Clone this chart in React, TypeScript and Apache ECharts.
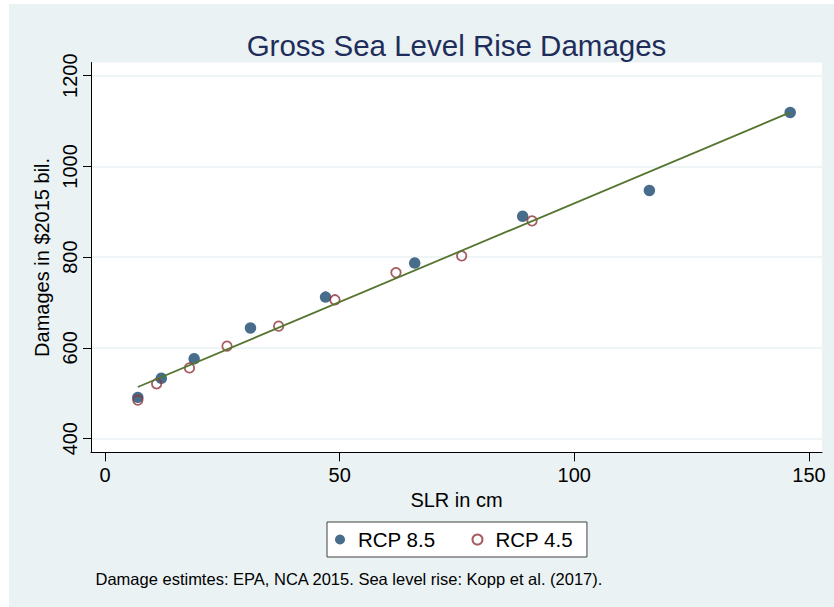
import React, { useEffect, useRef } from 'react';
import * as echarts from 'echarts';

// Data
const slrRcp85 = [7, 12, 19, 31, 47, 66, 89, 116, 146];
const dmgRcp85 = [491, 533, 576, 644, 712, 787, 890, 947, 1119];
const slrRcp45 = [7, 11, 18, 26, 37, 49, 62, 76, 91];
const dmgRcp45 = [485, 521, 556, 604, 648, 706, 766, 803, 880];
const fitSlr = [7, 146];
const fitDmg = [514, 1119];
const xTicks = [0, 50, 100, 150];
const yTicks = [400, 600, 800, 1000, 1200];
const seriesNames = ['RCP 8.5', 'RCP 4.5'];
const titleText = 'Gross Sea Level Rise Damages';
const xName = 'SLR in cm';
const yName = 'Damages in $2015 bil.';
const noteText = 'Damage estimtes: EPA, NCA 2015. Sea level rise: Kopp et al. (2017).';

const FONT = "'Liberation Sans', Arial, Helvetica, sans-serif";
const OX = 9;
const OY = 4;

export default function App() {
  const ref = useRef<HTMLDivElement>(null);
  useEffect(() => {
    if (!ref.current) return;
    const chart = echarts.init(ref.current, undefined, { renderer: 'svg' });
    const d85 = slrRcp85.map((x, i) => [x, dmgRcp85[i]]);
    const d45 = slrRcp45.map((x, i) => [x, dmgRcp45[i]]);
    const fit = fitSlr.map((x, i) => [x, fitDmg[i]]);
    chart.setOption({
      animation: false,
      backgroundColor: '#EAF2F3',
      textStyle: { fontFamily: FONT },
      graphic: [
        {
          type: 'text',
          x: 456.5 - OX,
          y: 45 - OY,
          style: {
            text: titleText,
            fontFamily: FONT,
            fontSize: 29.5,
            fill: '#1f2d5b',
            textAlign: 'center',
            textVerticalAlign: 'middle',
          },
        },
        {
          type: 'text',
          x: 95.5 - OX,
          y: 579 - OY,
          style: {
            text: noteText,
            fontFamily: FONT,
            fontSize: 16.5,
            fill: '#000',
            textAlign: 'left',
            textVerticalAlign: 'middle',
          },
        },
      ],
      grid: {
        left: 91 - OX,
        top: 62.5 - OY,
        right: 834 - 822,
        bottom: 607 - 452.3,
        show: true,
        backgroundColor: '#ffffff',
        borderWidth: 0,
      },
      legend: {
        data: seriesNames,
        left: 327 - OX,
        top: 522 - OY,
        orient: 'horizontal',
        itemWidth: 10,
        itemHeight: 10,
        itemGap: 36,
        padding: [7, 14, 7, 8],
        backgroundColor: '#ffffff',
        borderColor: '#404040',
        borderWidth: 1,
        borderRadius: 0,
        selectedMode: false,
        textStyle: { fontSize: 20.5, color: '#000', fontFamily: FONT, padding: [0, 0, 0, 8] },
      },
      xAxis: {
        type: 'value',
        min: -2.98,
        max: 152.78,
        name: xName,
        nameLocation: 'middle',
        nameGap: 33,
        nameTextStyle: { fontSize: 20, color: '#000', fontFamily: FONT },
        axisLine: { show: true, onZero: false, lineStyle: { color: '#000', width: 1 } },
        axisTick: { show: true, length: 9, customValues: xTicks, lineStyle: { color: '#000' } },
        axisLabel: {
          customValues: xTicks,
          fontSize: 20,
          color: '#000',
          margin: 13,
          fontFamily: FONT,
          formatter: (v: number) => String(v),
        },
        splitLine: { show: false },
      },
      yAxis: {
        type: 'value',
        min: 370,
        max: 1229,
        name: yName,
        nameLocation: 'middle',
        nameGap: 36,
        nameTextStyle: { fontSize: 20, color: '#000', fontFamily: FONT },
        axisLine: { show: true, onZero: false, lineStyle: { color: '#000', width: 1 } },
        axisTick: { show: true, length: 8, customValues: yTicks, lineStyle: { color: '#000' } },
        axisLabel: {
          customValues: yTicks,
          fontSize: 20,
          color: '#000',
          margin: 11,
          rotate: 90,
          fontFamily: FONT,
          formatter: (v: number) => String(v),
        },
        splitLine: { show: true, lineStyle: { color: '#EAF2F3', width: 1.5 } },
      },
      series: [
        {
          name: seriesNames[0],
          type: 'scatter',
          data: d85,
          symbol: 'circle',
          symbolSize: 11.5,
          itemStyle: { color: '#1A476F' },
          emphasis: { disabled: true },
        },
        {
          name: seriesNames[1],
          type: 'scatter',
          data: d45,
          symbol: 'circle',
          symbolSize: 9.5,
          itemStyle: { color: 'rgba(255,255,255,0)', borderColor: '#90353B', borderWidth: 1.8 },
          emphasis: { disabled: true },
        },
        {
          name: 'Fitted values',
          type: 'line',
          data: fit,
          showSymbol: false,
          symbol: 'none',
          lineStyle: { color: '#55752F', width: 1.8 },
          itemStyle: { color: '#55752F' },
          z: 3,
          emphasis: { disabled: true },
        },
      ],
    });
    return () => chart.dispose();
  }, []);
  return (
    <div style={{ position: 'fixed', left: 0, top: 0, width: 834, height: 607, background: '#ffffff' }}>
      <div ref={ref} style={{ position: 'absolute', left: OX, top: OY, width: 834 - OX, height: 607 - OY }} />
    </div>
  );
}
